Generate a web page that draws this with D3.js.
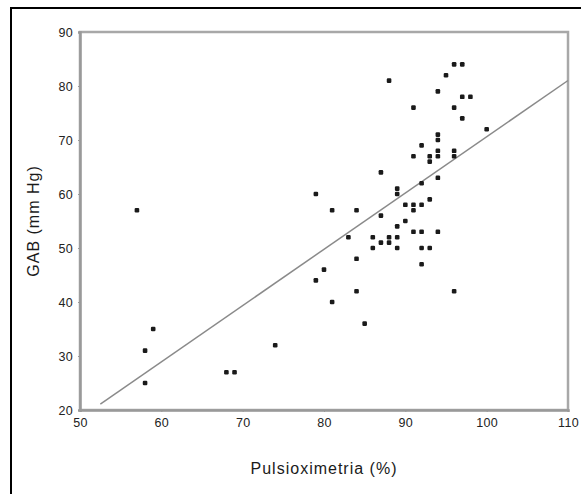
<!DOCTYPE html>
<html>
<head>
<meta charset="utf-8">
<script src="https://cdn.jsdelivr.net/npm/d3@7"></script>
<style>
  body { margin: 0; background: #fff; }
  svg { display: block; font-family: "Liberation Sans", Arial, sans-serif; }
  .tick text { fill: #222; font-size: 12.5px; letter-spacing: 0.3px; }
  .axis-label { fill: #1a1a1a; font-size: 16px; letter-spacing: 1px; }
</style>
</head>
<body>
<svg width="581" height="494"></svg>
<script>
// Pulsioximetria (%) vs GAB (mm Hg), one entry per patient
var pulsiox = [57, 59, 58, 58, 68, 69, 74,
  79, 79, 80, 81, 81, 83, 84, 84, 84, 85,
  86, 86, 87, 87, 87, 88, 88, 88,
  89, 89, 89, 89, 89,
  90, 90,
  91, 91, 91, 91, 91,
  92, 92, 92, 92, 92, 92,
  93, 93, 93, 93,
  94, 94, 94, 94, 94, 94, 94,
  95,
  96, 96, 96, 96, 96,
  97, 97, 97,
  98,
  100];
var gab = [57, 35, 31, 25, 27, 27, 32,
  60, 44, 46, 57, 40, 52, 57, 48, 42, 36,
  52, 50, 64, 56, 51, 81, 52, 51,
  61, 60, 54, 52, 50,
  58, 55,
  76, 67, 58, 57, 53,
  69, 62, 58, 53, 50, 47,
  67, 66, 59, 50,
  79, 71, 70, 68, 67, 63, 53,
  82,
  84, 76, 68, 67, 42,
  84, 78, 74,
  78,
  72];

// fitted line: gab = a + b * pulsiox
var fitA = -33.6;
var fitB = 1.042;
var fitFrom = [52.5, 110];

var xTicks = [50, 60, 70, 80, 90, 100, 110];
var yTicks = [20, 30, 40, 50, 60, 70, 80, 90];

var svg = d3.select('svg');
var padding = {t: 32, r: 13, b: 84, l: 80};
var plotW = +svg.attr('width') - padding.l - padding.r;
var plotH = +svg.attr('height') - padding.t - padding.b;

// outer frame of the figure
svg.append('rect')
  .attr('x', 11).attr('y', 8)
  .attr('width', 620).attr('height', 600)
  .attr('fill', 'none')
  .attr('stroke', '#000')
  .attr('stroke-width', 2);

var chartG = svg.append('g')
  .attr('transform', 'translate(' + [padding.l, padding.t] + ')');

var xScale = d3.scaleLinear().domain([50, 110]).range([0, plotW]);
var yScale = d3.scaleLinear().domain([20, 90]).range([plotH, 0]);

// plot box
chartG.append('rect')
  .attr('width', plotW).attr('height', plotH)
  .attr('fill', 'none')
  .attr('stroke', '#a8a8a8')
  .attr('stroke-width', 2.5);

var xAxis = d3.axisBottom(xScale).tickValues(xTicks).tickSize(2).tickPadding(6);
var yAxis = d3.axisLeft(yScale).tickValues(yTicks).tickSize(2).tickPadding(5);

chartG.append('g')
  .attr('class', 'x axis')
  .attr('transform', 'translate(0,' + plotH + ')')
  .call(xAxis)
  .call(function (g) {
    g.select('.domain').attr('stroke', '#999').attr('stroke-width', 2.5);
    g.selectAll('.tick line').attr('stroke', '#999');
  });

chartG.append('g')
  .attr('class', 'y axis')
  .call(yAxis)
  .call(function (g) {
    g.select('.domain').attr('stroke', '#999').attr('stroke-width', 2.5);
    g.selectAll('.tick line').attr('stroke', '#999');
  });

// regression line
chartG.append('line')
  .attr('x1', xScale(fitFrom[0]))
  .attr('y1', yScale(fitA + fitB * fitFrom[0]))
  .attr('x2', xScale(fitFrom[1]))
  .attr('y2', yScale(fitA + fitB * fitFrom[1]))
  .attr('stroke', '#8a8a8a')
  .attr('stroke-width', 1.5);

// points
var points = pulsiox.map(function (d, i) {
  return {x: d, y: gab[i]};
});

chartG.selectAll('.dot')
  .data(points)
  .enter()
  .append('rect')
  .attr('class', 'dot')
  .attr('x', function (d) { return xScale(d.x) - 2.3; })
  .attr('y', function (d) { return yScale(d.y) - 2.3; })
  .attr('width', 4.6)
  .attr('height', 4.6)
  .attr('rx', 1.2)
  .attr('fill', '#1a1a1a');

// axis titles
chartG.append('text')
  .attr('class', 'axis-label')
  .attr('text-anchor', 'middle')
  .attr('transform', 'translate(' + [plotW / 2, plotH + 64] + ')')
  .text('Pulsioximetria (%)');

chartG.append('text')
  .attr('class', 'axis-label')
  .attr('text-anchor', 'middle')
  .attr('transform', 'translate(' + [-41, plotH / 2] + ')rotate(270)')
  .text('GAB (mm Hg)');
</script>
</body>
</html>
